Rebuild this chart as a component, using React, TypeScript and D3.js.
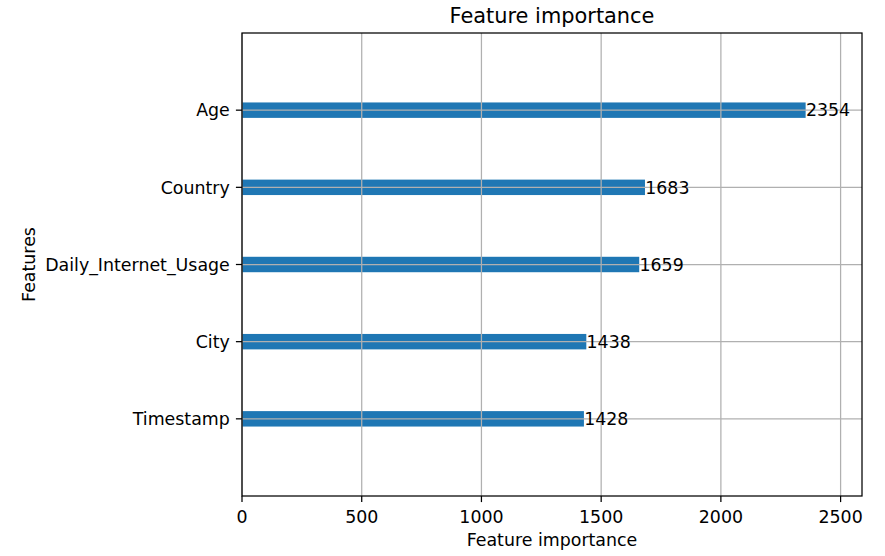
import React from "react";
import * as d3 from "d3";

// Feature importance (split counts), listed bottom to top
const features = ["Timestamp", "City", "Daily_Internet_Usage", "Country", "Age"];
const importance = [1428, 1438, 1659, 1683, 2354];
const xTicks = [0, 500, 1000, 1500, 2000, 2500];

const W = 885;
const H = 556;
const margin = { left: 242, right: 885 - 862, top: 33, bottom: 556 - 496 };
const FONT = "DejaVu Sans, sans-serif";
const FS = 17.4;
const BLUE = "#1f77b4";
const GRID = "#b0b0b0";
const LW = 1.25;

export default function App() {
  const innerW = W - margin.left - margin.right;
  const innerH = H - margin.top - margin.bottom;
  const xMax = d3.max(importance)! * 1.1;
  const x = d3.scaleLinear().domain([0, xMax]).range([0, innerW]);
  const y = d3.scaleLinear().domain([-1, features.length]).range([innerH, 0]);
  const barH = y(0) - y(0.2);

  return (
    <svg
      width={W}
      height={H}
      style={{ position: "absolute", left: 0, top: 0, background: "#fff" }}
      fontFamily={FONT}
    >
      <text x={margin.left + innerW / 2} y={23} fontSize={20.9} textAnchor="middle" fill="#000">
        Feature importance
      </text>
      <g transform={`translate(${margin.left},${margin.top})`}>
        {importance.map((v, i) => (
          <rect key={`b${i}`} x={x(0)} y={y(i) - barH / 2} width={x(v) - x(0)} height={barH} fill={BLUE} />
        ))}
        {/* grid drawn above bars */}
        {xTicks.map((t) => (
          <line key={`gx${t}`} x1={x(t)} x2={x(t)} y1={0} y2={innerH} stroke={GRID} strokeWidth={LW} />
        ))}
        {features.map((_, i) => (
          <line key={`gy${i}`} x1={0} x2={innerW} y1={y(i)} y2={y(i)} stroke={GRID} strokeWidth={LW} />
        ))}
        {importance.map((v, i) => (
          <text key={`l${i}`} x={x(v + 1)} y={y(i)} dy="0.36em" fontSize={FS} fill="#000">
            {v}
          </text>
        ))}
        <rect x={0} y={0} width={innerW} height={innerH} fill="none" stroke="#000" strokeWidth={LW} />
        {xTicks.map((t) => (
          <g key={`tx${t}`} transform={`translate(${x(t)},${innerH})`}>
            <line y1={0} y2={6.1} stroke="#000" strokeWidth={LW} />
            <text y={26.6} fontSize={FS} textAnchor="middle" fill="#000">
              {t}
            </text>
          </g>
        ))}
        {features.map((f, i) => (
          <g key={`ty${i}`} transform={`translate(0,${y(i)})`}>
            <line x1={0} x2={-6.1} stroke="#000" strokeWidth={LW} />
            <text x={-12.2} dy="0.36em" fontSize={FS} textAnchor="end" fill="#000">
              {f}
            </text>
          </g>
        ))}
      </g>
      <text x={margin.left + innerW / 2} y={546} fontSize={FS} textAnchor="middle" fill="#000">
        Feature importance
      </text>
      <text transform={`translate(35,${margin.top + innerH / 2}) rotate(-90)`} fontSize={FS} textAnchor="middle" fill="#000">
        Features
      </text>
    </svg>
  );
}
